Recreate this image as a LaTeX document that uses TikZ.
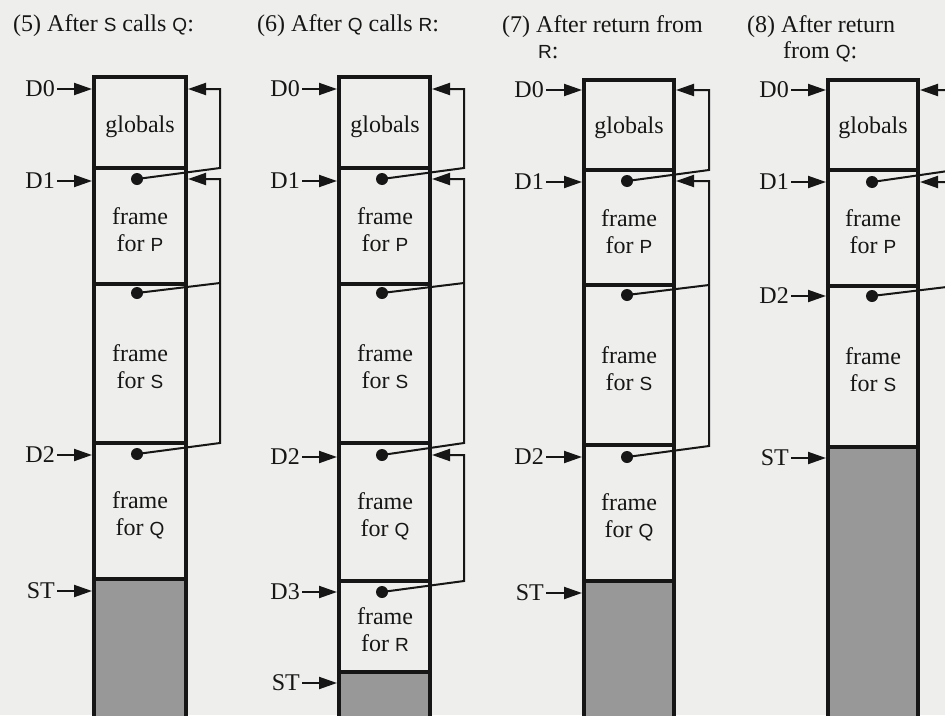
\documentclass[tikz,border=0pt]{standalone}
\usepackage{fontspec}
\setmainfont{Liberation Serif}
\setsansfont{Liberation Sans}
\usetikzlibrary{arrows.meta}
\definecolor{paper}{RGB}{238,238,236}
\definecolor{freespace}{RGB}{152,152,152}
\definecolor{ink}{RGB}{22,22,22}
\newcommand{\pname}[1]{{\fontsize{19}{27}\selectfont\sffamily #1}}

\begin{document}
\begin{tikzpicture}[x=1pt,y=-1pt,>={Triangle[length=18pt,width=12pt]},
    font=\fontsize{24}{27}\selectfont, color=ink,
    stack/.style={line width=4pt},
    link/.style={line width=2pt},
    dlabel/.style={anchor=east, inner xsep=2pt, inner ysep=0pt},
    title/.style={anchor=base west, inner sep=0pt},
    ftext/.style={align=center, inner sep=0pt}]

    % page
    \useasboundingbox (0,0) rectangle (945,715);
    \clip (0,0) rectangle (945,715);
    \fill[paper] (0,0) rectangle (945,715);

    % --- Column (5): After S calls Q ---
    \node[title] (t5) at (13,31) {(5) After \pname{S} calls \pname{Q}:};
    \fill[freespace] (94,579) rectangle (186,725);
    \draw[stack] (94,725) -- (94,77) -- (186,77) -- (186,725);
    \draw[stack] (94,168) -- (186,168) (94,284) -- (186,284)
                 (94,443) -- (186,443) (94,579) -- (186,579);
    \node[ftext] (c1glob) at (140,127) {globals};
    \node[ftext] (c1p) at (140,230) {frame\\for \pname{P}};
    \node[ftext] (c1s) at (140,367) {frame\\for \pname{S}};
    \node[ftext] (c1q) at (140,515) {frame\\for \pname{Q}};
    % pointers from the left
    \coordinate (c1in) at (92,0);
    \node[dlabel] (c1d0) at (57,89) {D0};
    \node[dlabel] (c1d1) at (57,181) {D1};
    \node[dlabel] (c1d2) at (57,455) {D2};
    \node[dlabel] (c1st) at (57,591) {ST};
    \draw[link,->] (c1d0) -- (c1d0 -| c1in);
    \draw[link,->] (c1d1) -- (c1d1 -| c1in);
    \draw[link,->] (c1d2) -- (c1d2 -| c1in);
    \draw[link,->] (c1st) -- (c1st -| c1in);
    % static links
    \coordinate (c1r0) at (188,89);
    \coordinate (c1r1) at (188,179);
    \coordinate (c1lp) at (137,179);
    \coordinate (c1ls) at (137,293);
    \coordinate (c1lq) at (137,454);
    \draw[link,->] (c1lp) -- (220,168) |- (c1r0);
    \draw[link] (c1ls) -- (220,283);
    \draw[link,->] (c1lq) -- (220,443) |- (c1r1);
    \fill (c1lp) circle (6pt) (c1ls) circle (6pt) (c1lq) circle (6pt);

    % --- Column (6): After Q calls R ---
    \node[title] (t6) at (257,31) {(6) After \pname{Q} calls \pname{R}:};
    \fill[freespace] (339,672) rectangle (430,725);
    \draw[stack] (339,725) -- (339,77) -- (430,77) -- (430,725);
    \draw[stack] (339,168) -- (430,168) (339,284) -- (430,284)
                 (339,443) -- (430,443) (339,581) -- (430,581)
                 (339,672) -- (430,672);
    \node[ftext] (c2glob) at (385,127) {globals};
    \node[ftext] (c2p) at (385,230) {frame\\for \pname{P}};
    \node[ftext] (c2s) at (385,367) {frame\\for \pname{S}};
    \node[ftext] (c2q) at (385,516) {frame\\for \pname{Q}};
    \node[ftext] (c2r) at (385,630) {frame\\for \pname{R}};
    % pointers from the left
    \coordinate (c2in) at (337,0);
    \node[dlabel] (c2d0) at (302,89) {D0};
    \node[dlabel] (c2d1) at (302,181) {D1};
    \node[dlabel] (c2d2) at (302,457) {D2};
    \node[dlabel] (c2d3) at (302,592) {D3};
    \node[dlabel] (c2st) at (302,683) {ST};
    \draw[link,->] (c2d0) -- (c2d0 -| c2in);
    \draw[link,->] (c2d1) -- (c2d1 -| c2in);
    \draw[link,->] (c2d2) -- (c2d2 -| c2in);
    \draw[link,->] (c2d3) -- (c2d3 -| c2in);
    \draw[link,->] (c2st) -- (c2st -| c2in);
    % static links
    \coordinate (c2r0) at (432,89);
    \coordinate (c2r1) at (432,179);
    \coordinate (c2r2) at (432,455);
    \coordinate (c2lp) at (382,179);
    \coordinate (c2ls) at (382,293);
    \coordinate (c2lq) at (382,455);
    \coordinate (c2lr) at (382,592);
    \draw[link,->] (c2lp) -- (464,168) |- (c2r0);
    \draw[link] (c2ls) -- (464,283);
    \draw[link,->] (c2lq) -- (464,443) |- (c2r1);
    \draw[link,->] (c2lr) -- (464,581) |- (c2r2);
    \fill (c2lp) circle (6pt) (c2ls) circle (6pt) (c2lq) circle (6pt)
          (c2lr) circle (6pt);

    % --- Column (7): After return from R ---
    \node[title] (t7a) at (502,32) {(7) After return from};
    \node[title] (t7b) at (538,58) {\pname{R}:};
    \fill[freespace] (584,581) rectangle (674,725);
    \draw[stack] (584,725) -- (584,80) -- (674,80) -- (674,725);
    \draw[stack] (584,170) -- (674,170) (584,285) -- (674,285)
                 (584,445) -- (674,445) (584,581) -- (674,581);
    \node[ftext] (c3glob) at (629,128) {globals};
    \node[ftext] (c3p) at (629,232) {frame\\for \pname{P}};
    \node[ftext] (c3s) at (629,369) {frame\\for \pname{S}};
    \node[ftext] (c3q) at (629,517) {frame\\for \pname{Q}};
    % pointers from the left
    \coordinate (c3in) at (582,0);
    \node[dlabel] (c3d0) at (546,90) {D0};
    \node[dlabel] (c3d1) at (546,182) {D1};
    \node[dlabel] (c3d2) at (546,457) {D2};
    \node[dlabel] (c3st) at (546,593) {ST};
    \draw[link,->] (c3d0) -- (c3d0 -| c3in);
    \draw[link,->] (c3d1) -- (c3d1 -| c3in);
    \draw[link,->] (c3d2) -- (c3d2 -| c3in);
    \draw[link,->] (c3st) -- (c3st -| c3in);
    % static links
    \coordinate (c3r0) at (676,90);
    \coordinate (c3r1) at (676,181);
    \coordinate (c3lp) at (627,181);
    \coordinate (c3ls) at (627,295);
    \coordinate (c3lq) at (627,457);
    \draw[link,->] (c3lp) -- (709,170) |- (c3r0);
    \draw[link] (c3ls) -- (709,285);
    \draw[link,->] (c3lq) -- (709,446) |- (c3r1);
    \fill (c3lp) circle (6pt) (c3ls) circle (6pt) (c3lq) circle (6pt);

    % --- Column (8): After return from Q ---
    \node[title] (t8a) at (747,32) {(8) After return};
    \node[title] (t8b) at (783,58) {from \pname{Q}:};
    \fill[freespace] (828,447) rectangle (918,725);
    \draw[stack] (828,725) -- (828,80) -- (918,80) -- (918,725);
    \draw[stack] (828,170) -- (918,170) (828,286) -- (918,286)
                 (828,447) -- (918,447);
    \node[ftext] (c4glob) at (873,128) {globals};
    \node[ftext] (c4p) at (873,232) {frame\\for \pname{P}};
    \node[ftext] (c4s) at (873,370) {frame\\for \pname{S}};
    % pointers from the left
    \coordinate (c4in) at (826,0);
    \node[dlabel] (c4d0) at (791,90) {D0};
    \node[dlabel] (c4d1) at (791,182) {D1};
    \node[dlabel] (c4d2) at (791,296) {D2};
    \node[dlabel] (c4st) at (791,458) {ST};
    \draw[link,->] (c4d0) -- (c4d0 -| c4in);
    \draw[link,->] (c4d1) -- (c4d1 -| c4in);
    \draw[link,->] (c4d2) -- (c4d2 -| c4in);
    \draw[link,->] (c4st) -- (c4st -| c4in);
    % static links (loop runs past the page edge)
    \coordinate (c4r0) at (920,90);
    \coordinate (c4r1) at (920,182);
    \coordinate (c4lp) at (872,182);
    \coordinate (c4ls) at (872,296);
    \draw[link,->] (c4lp) -- (955,170) |- (c4r0);
    \draw[link,->] (c4ls) -- (955,286) |- (c4r1);
    \fill (c4lp) circle (6pt) (c4ls) circle (6pt);

\end{tikzpicture}
\end{document}
